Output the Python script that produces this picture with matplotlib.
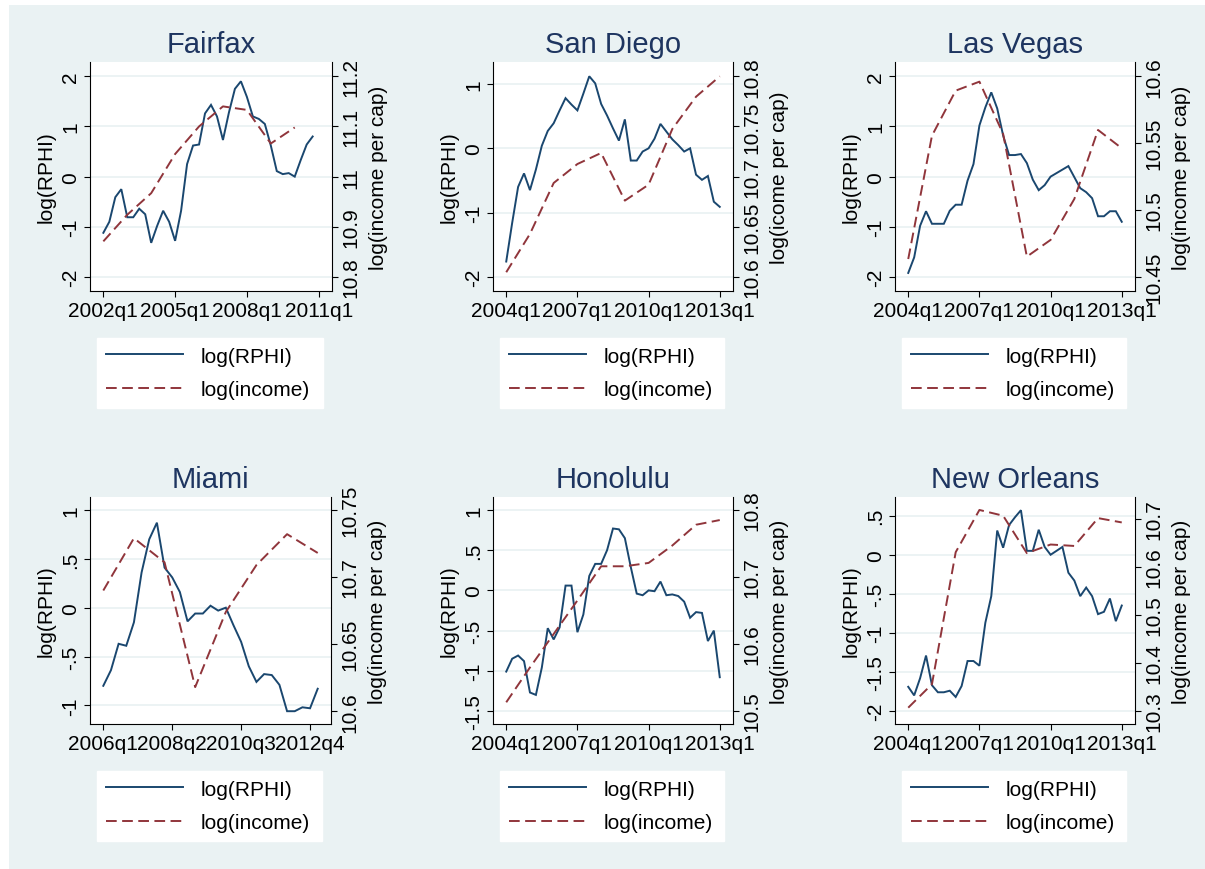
import matplotlib
matplotlib.use("Agg")
import matplotlib.pyplot as plt
from matplotlib.patches import Rectangle

plt.rcParams['font.family'] = ['Liberation Sans', 'DejaVu Sans']

# quarterly log(RPHI), annual log(income per cap) sampled at q1 of each year
fairfax_rphi = [-1.12, -0.90, -0.41, -0.25, -0.81, -0.81, -0.64, -0.75, -1.32, -0.98,
                -0.68, -0.90, -1.28, -0.68, 0.25, 0.62, 0.64, 1.26, 1.43, 1.20,
                0.73, 1.28, 1.75, 1.90, 1.59, 1.20, 1.15, 1.05, 0.62, 0.11,
                0.05, 0.07, 0.00, 0.33, 0.64, 0.80]
fairfax_income = [10.871, 10.924, 10.967, 11.045, 11.100, 11.140, 11.133, 11.066, 11.098]

sandiego_rphi = [-1.76, -1.16, -0.60, -0.39, -0.65, -0.33, 0.04, 0.27, 0.39, 0.59,
                 0.78, 0.68, 0.59, 0.85, 1.12, 1.01, 0.69, 0.51, 0.31, 0.12,
                 0.45, -0.19, -0.19, -0.05, 0.00, 0.15, 0.38, 0.26, 0.14, 0.05,
                 -0.05, 0.00, -0.41, -0.49, -0.43, -0.83, -0.91]
sandiego_income = [10.6047, 10.6429, 10.6937, 10.7126, 10.7236, 10.6761, 10.692,
                   10.7475, 10.7797, 10.800]

lasvegas_rphi = [-1.92, -1.61, -0.98, -0.69, -0.94, -0.94, -0.94, -0.68, -0.56, -0.56,
                 -0.08, 0.25, 1.02, 1.38, 1.68, 1.36, 0.82, 0.43, 0.43, 0.45,
                 0.27, -0.06, -0.27, -0.17, 0.00, 0.07, 0.14, 0.21, -0.01, -0.23,
                 -0.31, -0.43, -0.79, -0.79, -0.69, -0.69, -0.90]
lasvegas_income = [10.4634, 10.5556, 10.5893, 10.5960, 10.5569, 10.4652, 10.4777,
                   10.5083, 10.5599, 10.5462]

miami_rphi = [-0.80, -0.64, -0.37, -0.39, -0.15, 0.36, 0.70, 0.87, 0.41, 0.31,
              0.16, -0.14, -0.06, -0.06, 0.02, -0.03, 0.00, -0.18, -0.35, -0.60,
              -0.76, -0.68, -0.69, -0.79, -1.06, -1.06, -1.02, -1.03, -0.83]
miami_income = [10.690, 10.729, 10.711, 10.618, 10.674, 10.709, 10.732, 10.718]

honolulu_rphi = [-1.01, -0.85, -0.81, -0.88, -1.27, -1.30, -0.96, -0.47, -0.61, -0.46,
                 0.06, 0.06, -0.52, -0.30, 0.18, 0.33, 0.33, 0.50, 0.77, 0.76,
                 0.65, 0.29, -0.04, -0.06, 0.00, -0.01, 0.11, -0.06, -0.05, -0.07,
                 -0.14, -0.34, -0.27, -0.28, -0.63, -0.50, -1.08]
honolulu_income = [10.513, 10.565, 10.615, 10.665, 10.716, 10.716, 10.721, 10.747,
                   10.778, 10.785]

neworleans_rphi = [-1.69, -1.80, -1.58, -1.29, -1.67, -1.76, -1.76, -1.74, -1.82, -1.68,
                   -1.36, -1.36, -1.42, -0.87, -0.53, 0.31, 0.09, 0.38, 0.48, 0.57,
                   0.05, 0.05, 0.32, 0.10, 0.00, 0.05, 0.10, -0.23, -0.33, -0.53,
                   -0.42, -0.53, -0.76, -0.73, -0.56, -0.85, -0.65]
neworleans_income = [10.307, 10.356, 10.631, 10.719, 10.707, 10.629, 10.647, 10.644,
                     10.702, 10.693]

BLUE = '#1a476f'
RED = '#90353b'
BG = '#eaf2f3'
TITLE = '#1e3560'

panels = [
    dict(title="Fairfax", rphi=fairfax_rphi, income=fairfax_income, start=2002, xstep=12,
         yl=(-2.28, 2.285), lticks=[-2, -1, 0, 1, 2],
         yr=(10.772, 11.2285), rticks=[10.8, 10.9, 11, 11.1, 11.2],
         rlabel="log(income per cap)", box=(90, 63, 332, 292)),
    dict(title="San Diego", rphi=sandiego_rphi, income=sandiego_income, start=2004, xstep=12,
         yl=(-2.218, 1.342), lticks=[-2, -1, 0, 1],
         yr=(10.586, 10.8143), rticks=[10.6, 10.65, 10.7, 10.75, 10.8],
         rlabel="log(icome per cap)", box=(493, 63, 733, 292)),
    dict(title="Las Vegas", rphi=lasvegas_rphi, income=lasvegas_income, start=2004, xstep=12,
         yl=(-2.28, 2.285), lticks=[-2, -1, 0, 1, 2],
         yr=(10.4395, 10.6107), rticks=[10.45, 10.5, 10.55, 10.6],
         rlabel="log(income per cap)", box=(895, 63, 1135, 292)),
    dict(title="Miami", rphi=miami_rphi, income=miami_income, start=2006, xstep=9,
         yl=(-1.191, 1.133), lticks=[-1, -0.5, 0, 0.5, 1],
         yr=(10.5905, 10.7597), rticks=[10.6, 10.65, 10.7, 10.75],
         rlabel="log(income per cap)", box=(90, 498, 331, 725)),
    dict(title="Honolulu", rphi=honolulu_rphi, income=honolulu_income, start=2004, xstep=12,
         yl=(-1.662, 1.162), lticks=[-1.5, -1, -0.5, 0, 0.5, 1],
         yr=(10.4806, 10.8194), rticks=[10.5, 10.6, 10.7, 10.8],
         rlabel="log(income per cap)", box=(493, 498, 733, 725)),
    dict(title="New Orleans", rphi=neworleans_rphi, income=neworleans_income, start=2004, xstep=12,
         yl=(-2.166, 0.739), lticks=[-2, -1.5, -1, -0.5, 0, 0.5],
         yr=(10.273, 10.746), rticks=[10.3, 10.4, 10.5, 10.6, 10.7],
         rlabel="log(income per cap)", box=(895, 498, 1135, 725)),
]

W, H = 1205, 870


def stata_num(v):
    s = f"{v:g}"
    if s.startswith("0."):
        s = s[1:]
    elif s.startswith("-0."):
        s = "-" + s[2:]
    return s


def quarter_label(year, idx):
    return f"{year + idx // 4}q{idx % 4 + 1}"


fig = plt.figure(figsize=(W / 100, H / 100), dpi=100)
fig.patch.set_facecolor('white')
fig.patches.append(Rectangle((9 / W, 0), 1, 1 - 6 / H, transform=fig.transFigure,
                             facecolor=BG, edgecolor='none', zorder=-10))

for p in panels:
    x0, y0, x1, y1 = p['box']
    ax = fig.add_axes([x0 / W, 1 - y1 / H, (x1 - x0) / W, (y1 - y0) / H])
    ax.set_facecolor('white')
    ax2 = ax.twinx()

    n = len(p['rphi'])
    xq = list(range(n))
    xa = [4 * k for k in range(len(p['income']))]
    h1, = ax.plot(xq, p['rphi'], color=BLUE, lw=1.4, solid_joinstyle='miter')
    h2, = ax2.plot(xa, p['income'], color=RED, lw=1.4, linestyle=(0, (5.5, 2.8)))

    xticks = [p['xstep'] * k for k in range(4)]
    span = max(xticks[-1], n - 1)
    ax.set_xlim(-0.062 * span, span + 0.062 * span)
    ax.set_xticks(xticks)
    ax.set_xticklabels([quarter_label(p['start'], t) for t in xticks])

    ax.set_ylim(*p['yl'])
    ax.set_yticks(p['lticks'])
    ax.set_yticklabels([stata_num(v) for v in p['lticks']])
    ax2.set_ylim(*p['yr'])
    ax2.set_yticks(p['rticks'])
    ax2.set_yticklabels([stata_num(v) for v in p['rticks']])

    ax.grid(axis='y', color=BG, lw=1.3)
    ax.set_axisbelow(True)

    for a in (ax, ax2):
        a.spines['top'].set_visible(False)
        for s in a.spines.values():
            s.set_linewidth(0.8)
    ax.spines['right'].set_visible(False)
    ax2.spines['left'].set_visible(False)
    ax2.spines['bottom'].set_visible(False)

    ax.tick_params(axis='both', labelsize=15, length=4, width=0.8, pad=3)
    ax.tick_params(axis='y', labelrotation=90)
    ax2.tick_params(axis='y', labelsize=15, length=4, width=0.8, pad=3, labelrotation=90)
    for lab in ax.get_yticklabels() + ax2.get_yticklabels():
        lab.set_va('center')

    ax.set_ylabel("log(RPHI)", fontsize=15, labelpad=4)
    ax2.set_ylabel(p['rlabel'], fontsize=15, labelpad=6)
    ax.set_title(p['title'], fontsize=21, color=TITLE, pad=7)

    # legend box under each panel
    top = y1 + 47
    ax.legend([h1, h2], ["log(RPHI)", "log(income)"], loc='upper left',
              bbox_to_anchor=((x0 + 7) / W, 1 - top / H, (x1 - x0 - 16) / W, 0),
              bbox_transform=fig.transFigure, mode='expand', borderaxespad=0,
              fontsize=15, handlelength=3.7, handletextpad=0.87, borderpad=0.42,
              labelspacing=0.68, frameon=True, fancybox=False, framealpha=1,
              facecolor='white', edgecolor='white')

fig.savefig("out.png", dpi=100, facecolor=fig.get_facecolor())
